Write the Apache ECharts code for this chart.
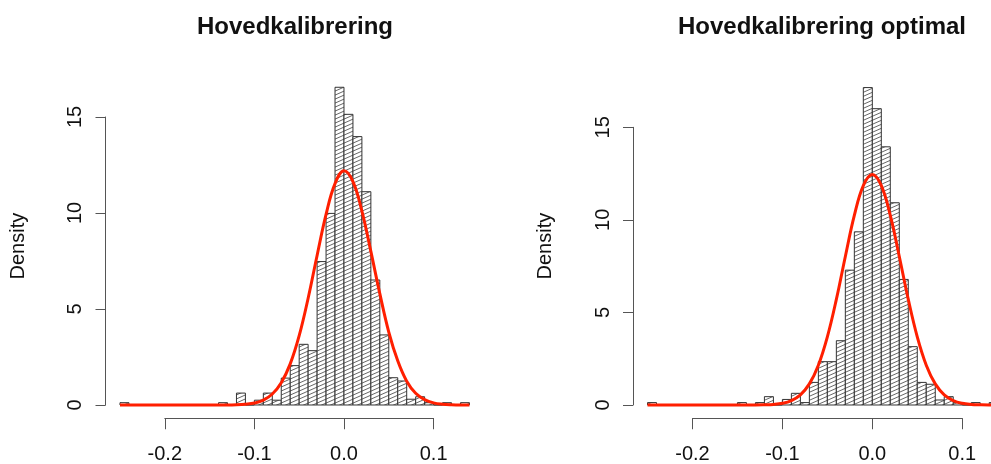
<!DOCTYPE html>
<html>
<head>
<meta charset="utf-8">
<script src="https://cdn.jsdelivr.net/npm/echarts@6/dist/echarts.min.js"></script>
<style>
  html, body { margin: 0; padding: 0; background: #fff; }
  #main { width: 991px; height: 464px; }
</style>
</head>
<body>
<div id="main"></div>
<script>
// histogram bin edges (width 0.01)
var breaks = [-0.25, -0.24, -0.23, -0.22, -0.21, -0.20, -0.19, -0.18, -0.17, -0.16,
  -0.15, -0.14, -0.13, -0.12, -0.11, -0.10, -0.09, -0.08, -0.07, -0.06,
  -0.05, -0.04, -0.03, -0.02, -0.01, 0.00, 0.01, 0.02, 0.03, 0.04,
  0.05, 0.06, 0.07, 0.08, 0.09, 0.10, 0.11, 0.12, 0.13, 0.14];

// densities per bin
var densMain = [0.12, 0, 0, 0, 0, 0, 0, 0, 0, 0, 0, 0.12, 0, 0.62, 0, 0.25, 0.62, 0.25,
  1.4, 2.05, 3.16, 2.83, 7.47, 9.98, 16.55, 15.14, 13.98, 11.11, 6.51, 3.65,
  1.42, 1.25, 0.3, 0.43, 0.12, 0, 0.12, 0, 0.12];
var densOptimal = [0.13, 0, 0, 0, 0, 0, 0, 0, 0, 0, 0.13, 0, 0.13, 0.45, 0, 0.3, 0.63, 0.13,
  1.22, 2.34, 2.34, 3.47, 7.28, 9.35, 17.14, 16.0, 13.94, 10.92, 6.78, 3.15,
  1.22, 1.12, 0.27, 0.45, 0.13, 0, 0.13, 0, 0.13];

// red fitted curve
var curveX = [-0.25, -0.13, -0.12, -0.11, -0.10, -0.09, -0.08, -0.07, -0.06, -0.05, -0.04,
  -0.03, -0.02, -0.01, 0.00, 0.01, 0.02, 0.03, 0.04, 0.05, 0.06, 0.07, 0.08,
  0.09, 0.10, 0.11, 0.12, 0.13, 0.14];
var curveMain = [0, 0, 0.01, 0.04, 0.10, 0.25, 0.57, 1.16, 2.14, 3.61, 5.56,
  7.79, 9.93, 11.53, 12.2, 11.64, 10.1, 8.0, 5.8, 3.8, 2.3, 1.24, 0.61,
  0.28, 0.11, 0.04, 0.01, 0, 0];
var curveOptimal = [0, 0, 0.01, 0.03, 0.09, 0.24, 0.55, 1.14, 2.15, 3.68, 5.7,
  8.02, 10.24, 11.85, 12.45, 11.85, 10.24, 8.02, 5.7, 3.68, 2.15, 1.14, 0.55,
  0.24, 0.09, 0.03, 0.01, 0, 0];

var xTicks = [-0.2, 0.1];   // first and last labelled tick
var yTicks = [0, 15];

var titles = ['Hovedkalibrering', 'Hovedkalibrering optimal'];

var FONT = '"Liberation Sans", Arial, Helvetica, sans-serif';
var AXIS_COLOR = '#555';
var TEXT_COLOR = '#111';
var RED = '#ff1f00';

// hatch tile, like R's density= shading
var tile = document.createElement('canvas');
tile.width = 9;
tile.height = 4;
var tctx = tile.getContext('2d');
tctx.fillStyle = '#fff';
tctx.fillRect(0, 0, 9, 4);
tctx.strokeStyle = '#4a4a4a';
tctx.lineWidth = 0.85;
for (var k = -1; k <= 1; k++) {
  tctx.beginPath();
  tctx.moveTo(-9, 8 + k * 4);
  tctx.lineTo(18, -4 + k * 4);
  tctx.stroke();
}
var hatch = { image: tile, repeat: 'repeat' };

function binData(dens) {
  var out = [];
  for (var i = 0; i < dens.length; i++) {
    out.push([breaks[i], breaks[i + 1], dens[i]]);
  }
  return out;
}

function curveData(ys) {
  return curveX.map(function (x, i) { return [x, ys[i]]; });
}

function renderBin(params, api) {
  var p0 = api.coord([api.value(0), api.value(2)]);
  var p1 = api.coord([api.value(1), 0]);
  return {
    type: 'rect',
    shape: { x: p0[0], y: p0[1], width: p1[0] - p0[0], height: p1[1] - p0[1] },
    style: { fill: hatch, stroke: '#333', lineWidth: 1 }
  };
}

// panel layout (pixels); the right panel runs off the picture's right edge,
// so its x range stops where the picture is cut
var panels = [
  { plot: { left: 106, right: 507.6 }, xmax: 0.1556,
    xax: { left: 164.8, right: 557.4 }, yax: { left: 105.5, top: 117 },
    ymin: -0.662, ymax: 17.21, center: 290, dens: densMain, curve: curveMain },
  { plot: { left: 633.5, right: 0 }, xmax: 0.1320,
    xax: { left: 692.5, right: 28.8 }, yax: { left: 633, top: 127.3 },
    ymin: -0.686, ymax: 17.84, center: 817, dens: densOptimal, curve: curveOptimal }
];

var grid = [], xAxis = [], yAxis = [], series = [], title = [];

panels.forEach(function (p, n) {
  var g = grid.length;
  grid.push({ left: p.plot.left, right: p.plot.right, top: 74.6, bottom: 46.3 });
  grid.push({ left: p.xax.left, right: p.xax.right, top: 418, height: 1 });
  grid.push({ left: p.yax.left, width: 1, top: p.yax.top, bottom: 59 });

  // data grid (axes hidden)
  xAxis.push({ gridIndex: g, type: 'value', min: -0.2656, max: p.xmax, show: false });
  yAxis.push({
    gridIndex: g, type: 'value', min: p.ymin, max: p.ymax,
    axisLine: { show: false }, axisTick: { show: false }, axisLabel: { show: false },
    splitLine: { show: false },
    name: 'Density', nameLocation: 'middle', nameRotate: 90, nameGap: 78,
    nameTextStyle: { fontFamily: FONT, fontSize: 20, color: TEXT_COLOR }
  });

  // x axis drawn only over the tick range
  xAxis.push({
    gridIndex: g + 1, type: 'value', min: xTicks[0], max: xTicks[1], interval: 0.1,
    position: 'bottom',
    axisLine: { lineStyle: { color: AXIS_COLOR, width: 1 } },
    axisTick: { length: 11, lineStyle: { color: AXIS_COLOR, width: 1 } },
    splitLine: { show: false },
    axisLabel: {
      margin: 26, fontFamily: FONT, fontSize: 20, color: TEXT_COLOR,
      formatter: function (v) { return v.toFixed(1); }
    }
  });
  yAxis.push({ gridIndex: g + 1, type: 'value', show: false });

  // y axis drawn only over the tick range
  xAxis.push({ gridIndex: g + 2, type: 'value', show: false });
  yAxis.push({
    gridIndex: g + 2, type: 'value', min: yTicks[0], max: yTicks[1], interval: 5,
    position: 'left',
    axisLine: { show: true, lineStyle: { color: AXIS_COLOR, width: 1 } },
    axisTick: { show: true, length: 10, lineStyle: { color: AXIS_COLOR, width: 1 } },
    splitLine: { show: false },
    axisLabel: { rotate: 90, margin: 20, fontFamily: FONT, fontSize: 20, color: TEXT_COLOR }
  });

  series.push({
    type: 'custom',
    xAxisIndex: g, yAxisIndex: g,
    renderItem: renderBin,
    encode: { x: [0, 1], y: 2 },
    data: binData(p.dens),
    clip: true,
    silent: true
  });
  series.push({
    type: 'line',
    xAxisIndex: g, yAxisIndex: g,
    data: curveData(p.curve),
    smooth: 0.4,
    showSymbol: false,
    clip: true,
    lineStyle: { color: RED, width: 3 },
    silent: true,
    z: 5
  });

  title.push({
    text: titles[n],
    left: p.center,
    textAlign: 'center',
    top: 10,
    textStyle: { fontFamily: FONT, fontSize: 24, fontWeight: 'bold', color: '#111' }
  });
});

var chart = echarts.init(document.getElementById('main'), null, { renderer: 'canvas' });
chart.setOption({
  animation: false,
  backgroundColor: '#fff',
  title: title,
  grid: grid,
  xAxis: xAxis,
  yAxis: yAxis,
  series: series
});

window.addEventListener('resize', function () {
  chart.resize();
});
</script>
</body>
</html>
